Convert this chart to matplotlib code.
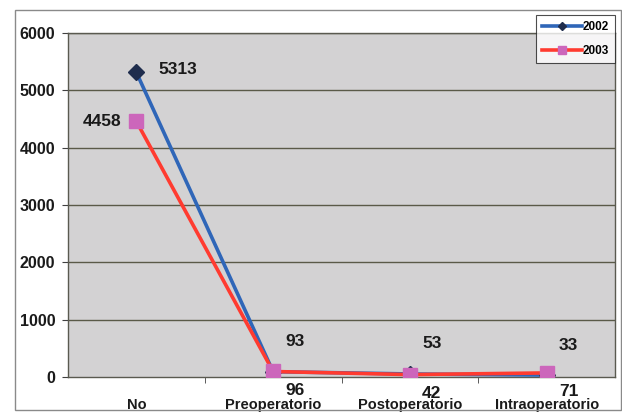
import matplotlib
matplotlib.use("Agg")
import matplotlib.pyplot as plt
from matplotlib.patches import Rectangle

categories = ["No", "Preoperatorio", "Postoperatorio", "Intraoperatorio"]
values_2002 = [5313, 93, 53, 33]
values_2003 = [4458, 96, 42, 71]
series_labels = ["2002", "2003"]
y_ticks = [0, 1000, 2000, 3000, 4000, 5000, 6000]

plt.rcParams["font.family"] = ["Liberation Sans", "DejaVu Sans"]
plt.rcParams["font.weight"] = "bold"

fig = plt.figure(figsize=(6.22, 4.12), dpi=100)
fig.patch.set_facecolor("white")

# outer chart frame
fig.patches.append(Rectangle((15 / 622, 2 / 412), 606 / 622, 400 / 412,
                             transform=fig.transFigure, fill=False,
                             edgecolor="#8a8a8a", linewidth=1.0))

ax = fig.add_axes([68 / 622, 1 - 377 / 412, 547 / 622, 344 / 412])
ax.set_facecolor("#d3d2d3")

x = list(range(len(categories)))

ax.set_xlim(-0.5, len(categories) - 0.5)
ax.set_ylim(0, 6000)
ax.set_yticks(y_ticks)
ax.set_yticklabels([str(v) for v in y_ticks], fontsize=11.5, fontweight="bold",
                   color="#1a1a1a")
ax.set_xticks(x)
ax.set_xticklabels(categories, fontsize=10.5, fontweight="bold", color="#1a1a1a")
ax.tick_params(axis="x", which="major", length=0, pad=15)
ax.set_xticks([0.5, 1.5, 2.5], minor=True)
ax.tick_params(axis="x", which="minor", length=4, direction="out", color="#404040")
ax.tick_params(axis="y", length=4, direction="out", color="#404040", pad=5)

for v in y_ticks[1:]:
    ax.axhline(v, color="#5a5a48", linewidth=1.0, zorder=1)

for s in ax.spines.values():
    s.set_color("#5a5a50")
    s.set_linewidth(1.0)

# series lines
ax.plot(x, values_2002, color="#2f66b8", linewidth=2.6, marker="D",
        markersize=8, markerfacecolor="#1f2d4d", markeredgecolor="#1f2d4d",
        zorder=3, label=series_labels[0])
ax.plot(x, values_2003, color="#ff3b30", linewidth=2.6, marker="s",
        markersize=10, markerfacecolor="#cc66bb", markeredgecolor="#cc66bb",
        zorder=4, label=series_labels[1])

lab_kw = dict(textcoords="offset pixels", fontsize=12.5, fontweight="bold",
              color="#1a1a1a", ha="center", va="center", zorder=6,
              annotation_clip=False)

# value labels for 2002
ax.annotate(str(values_2002[0]), (x[0], values_2002[0]), xytext=(41, 3), **lab_kw)
for xi, v in zip(x[1:], values_2002[1:]):
    ax.annotate(str(v), (xi, v), xytext=(22, 30), **lab_kw)

# value labels for 2003
ax.annotate(str(values_2003[0]), (x[0], values_2003[0]), xytext=(-34, 0), **lab_kw)
for xi, v in zip(x[1:], values_2003[1:]):
    ax.annotate(str(v), (xi, v), xytext=(22, -19), **lab_kw)

leg = ax.legend(loc="upper right", bbox_to_anchor=(1.0, 1 + 18 / 344),
                fontsize=8.5, frameon=True, fancybox=False, handlelength=3.4,
                handletextpad=0.1, borderpad=0.5, labelspacing=1.0,
                borderaxespad=0.0, markerscale=0.55)
leg.get_frame().set_edgecolor("#202020")
leg.get_frame().set_linewidth(0.8)
leg.get_frame().set_facecolor("white")
leg.set_zorder(10)

fig.savefig("out.png", dpi=100, facecolor="white")
